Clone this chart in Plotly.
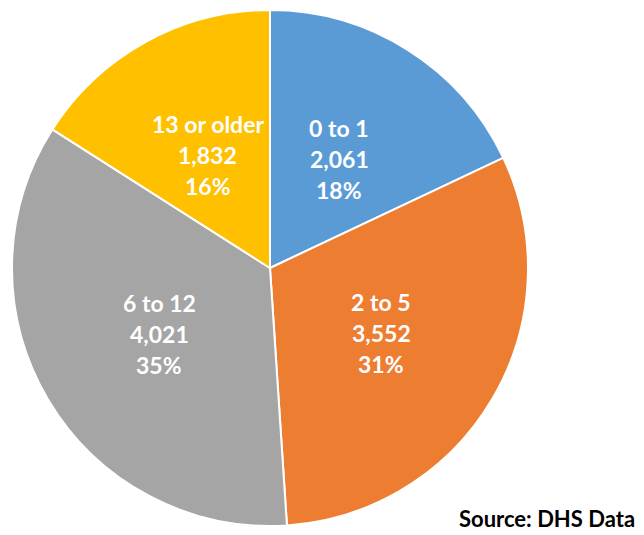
import math
import plotly.graph_objects as go

labels = ["0 to 1", "2 to 5", "6 to 12", "13 or older"]
values = [2061, 3552, 4021, 1832]
colors = ["#5B9BD5", "#ED7D31", "#A5A5A5", "#FFC000"]

# page body has an 8px margin, so the figure is sized to the visible area
W, H = 636, 527
cx, cy, r = 262, 260, 258
FONT = "Lato"

fig = go.Figure(go.Pie(
    labels=labels, values=values, sort=False, direction="clockwise", rotation=0,
    marker=dict(colors=colors, line=dict(color="white", width=2)),
    textinfo="none",
    hoverinfo="label+value+percent",
    domain=dict(x=[(cx - r) / W, (cx + r) / W], y=[1 - (cy + r) / H, 1 - (cy - r) / H]),
))

total = sum(values)
annotations = []
cum = 0
for lab, v in zip(labels, values):
    mid = (cum + v / 2) / total * 2 * math.pi
    cum += v
    px = cx + 0.5 * r * math.sin(mid)
    py = cy - 0.5 * r * math.cos(mid)
    lines = [lab, f"{v:,}", f"{round(v / total * 100)}%"]
    for i, t in enumerate(lines):
        annotations.append(dict(
            text=f"<b>{t}</b>", x=px / W, y=1 - py / H, xref="paper", yref="paper",
            xanchor="center", yanchor="middle", yshift=(1 - i) * 31, showarrow=False,
            font=dict(family=FONT, size=23, color="white")))

annotations.append(dict(
    text="<b>Source: DHS Data</b>", x=(W - 8) / W, y=2 / H, xref="paper", yref="paper",
    xanchor="right", yanchor="bottom", showarrow=False, borderpad=0,
    font=dict(family=FONT, size=22, color="black")))

fig.update_layout(
    width=W, height=H, margin=dict(l=0, r=0, t=0, b=0),
    paper_bgcolor="white", showlegend=False, annotations=annotations,
)
fig.write_html("out.html")
